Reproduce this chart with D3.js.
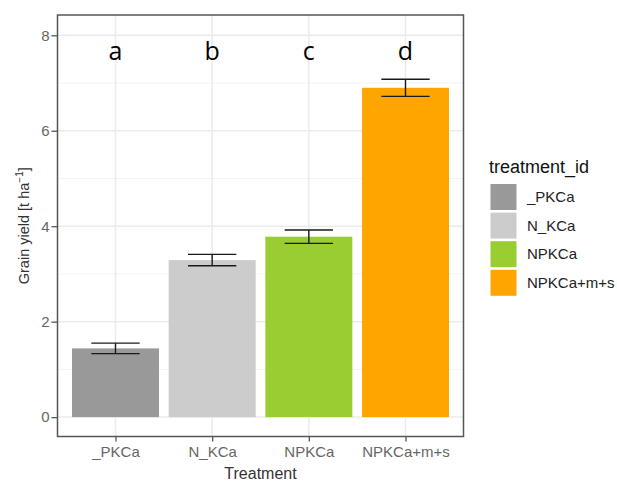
<!DOCTYPE html>
<html>
<head>
<meta charset="utf-8">
<script src="https://cdn.jsdelivr.net/npm/d3@7"></script>
<style>
  body { margin: 0; background: #fff; }
  svg { font-family: "Liberation Sans", Arial, sans-serif; }
</style>
</head>
<body>
<div id="chart"></div>
<script>
const width = 617;
const height = 481;

// DATA
const treatments = ["_PKCa", "N_KCa", "NPKCa", "NPKCa+m+s"];
const yields = [1.44, 3.29, 3.78, 6.90];
const errors = [0.11, 0.12, 0.14, 0.18];
const letters = ["a", "b", "c", "d"];
const colors = ["#999999", "#CCCCCC", "#9ACD32", "#FFA500"];
const yTicks = [0, 2, 4, 6, 8];
const yMinorTicks = [1, 3, 5, 7];

const data = treatments.map((t, i) => ({
  treatment: t,
  value: yields[i],
  err: errors[i],
  letter: letters[i],
  color: colors[i],
}));

const panel = { left: 57.5, right: 463.5, top: 15, bottom: 436.5 };

// SCALES
const yScale = d3
  .scaleLinear()
  .domain([-0.406, 8.425])
  .range([panel.bottom, panel.top]);

// discrete axis with ggplot-style 0.6 expansion
const xPos = d3
  .scaleLinear()
  .domain([0.4, 4.6])
  .range([panel.left, panel.right]);
const xScale = (t) => xPos(treatments.indexOf(t) + 1);
const barW = xPos(1.45) - xPos(1);
const errW = xPos(1.25) - xPos(1);

const colorScale = d3.scaleOrdinal().domain(treatments).range(colors);

const svg = d3
  .select("#chart")
  .append("svg")
  .attr("width", width)
  .attr("height", height);

// GRID
const grid = svg.append("g").attr("class", "grid");
grid
  .selectAll("line.minor")
  .data(yMinorTicks)
  .enter()
  .append("line")
  .attr("x1", panel.left)
  .attr("x2", panel.right)
  .attr("y1", (d) => yScale(d))
  .attr("y2", (d) => yScale(d))
  .attr("stroke", "#F3F3F3")
  .attr("stroke-width", 1);
grid
  .selectAll("line.major")
  .data(yTicks)
  .enter()
  .append("line")
  .attr("x1", panel.left)
  .attr("x2", panel.right)
  .attr("y1", (d) => yScale(d))
  .attr("y2", (d) => yScale(d))
  .attr("stroke", "#EBEBEB")
  .attr("stroke-width", 1.5);
grid
  .selectAll("line.vert")
  .data(treatments)
  .enter()
  .append("line")
  .attr("x1", (d) => xScale(d))
  .attr("x2", (d) => xScale(d))
  .attr("y1", panel.top)
  .attr("y2", panel.bottom)
  .attr("stroke", "#EBEBEB")
  .attr("stroke-width", 1.5);

// BARS
svg
  .selectAll("rect.bar")
  .data(data)
  .enter()
  .append("rect")
  .attr("class", "bar")
  .attr("x", (d) => xScale(d.treatment) - barW)
  .attr("width", barW * 2)
  .attr("y", (d) => yScale(d.value))
  .attr("height", (d) => yScale(0) - yScale(d.value))
  .attr("fill", (d) => colorScale(d.treatment));

// ERROR BARS
const errG = svg
  .selectAll("g.err")
  .data(data)
  .enter()
  .append("g")
  .attr("class", "err")
  .attr("stroke", "#1a1a1a")
  .attr("stroke-width", 1.4);
errG
  .append("line")
  .attr("x1", (d) => xScale(d.treatment))
  .attr("x2", (d) => xScale(d.treatment))
  .attr("y1", (d) => yScale(d.value - d.err))
  .attr("y2", (d) => yScale(d.value + d.err));
errG
  .append("line")
  .attr("x1", (d) => xScale(d.treatment) - errW)
  .attr("x2", (d) => xScale(d.treatment) + errW)
  .attr("y1", (d) => yScale(d.value + d.err))
  .attr("y2", (d) => yScale(d.value + d.err));
errG
  .append("line")
  .attr("x1", (d) => xScale(d.treatment) - errW)
  .attr("x2", (d) => xScale(d.treatment) + errW)
  .attr("y1", (d) => yScale(d.value - d.err))
  .attr("y2", (d) => yScale(d.value - d.err));

// LETTERS
svg
  .selectAll("text.letter")
  .data(data)
  .enter()
  .append("text")
  .attr("class", "letter")
  .text((d) => d.letter)
  .attr("x", (d) => xScale(d.treatment))
  .attr("y", yScale(7.48))
  .attr("text-anchor", "middle")
  .style("font-family", "'Open Sans', sans-serif")
  .style("font-size", "25px")
  .attr("fill", "#000");

// PANEL BORDER
svg
  .append("rect")
  .attr("x", panel.left)
  .attr("y", panel.top)
  .attr("width", panel.right - panel.left)
  .attr("height", panel.bottom - panel.top)
  .attr("fill", "none")
  .attr("stroke", "#555")
  .attr("stroke-width", 1.5);

// AXES
const yAxis = d3
  .axisLeft(yScale)
  .tickValues(yTicks)
  .tickSize(6)
  .tickPadding(2);
const yAxisG = svg
  .append("g")
  .attr("class", "y-axis")
  .attr("transform", `translate(${panel.left},0)`)
  .call(yAxis);
yAxisG.select(".domain").remove();
yAxisG.selectAll("line").attr("stroke", "#555").attr("stroke-width", 1.3);
yAxisG
  .selectAll("text")
  .attr("fill", "#666")
  .style("font-size", "15px");

const xAxisScale = d3
  .scalePoint()
  .domain(treatments)
  .range([xScale(treatments[0]), xScale(treatments[3])]);
const xAxis = d3.axisBottom(xAxisScale).tickSize(5).tickPadding(5);
const xAxisG = svg
  .append("g")
  .attr("class", "x-axis")
  .attr("transform", `translate(0,${panel.bottom})`)
  .call(xAxis);
xAxisG.select(".domain").remove();
xAxisG.selectAll("line").attr("stroke", "#555").attr("stroke-width", 1.3);
xAxisG
  .selectAll("text")
  .attr("fill", "#666")
  .style("font-size", "15px");

// AXIS TITLES
svg
  .append("text")
  .text("Treatment")
  .attr("x", (panel.left + panel.right) / 2)
  .attr("y", 479)
  .attr("text-anchor", "middle")
  .attr("fill", "#333")
  .style("font-size", "16px");

const yTitle = svg
  .append("text")
  .attr("transform", `translate(29,${(panel.top + panel.bottom) / 2}) rotate(-90)`)
  .attr("text-anchor", "middle")
  .attr("fill", "#333")
  .style("font-size", "14.5px");
yTitle.append("tspan").text("Grain yield [t ha");
yTitle
  .append("tspan")
  .text("−1")
  .attr("dy", -6)
  .style("font-size", "10px");
yTitle.append("tspan").text("]").attr("dy", 6);

// LEGEND
const legend = svg
  .append("g")
  .attr("class", "legend")
  .attr("transform", "translate(490,0)");
legend
  .append("text")
  .text("treatment_id")
  .attr("x", -1)
  .attr("y", 173)
  .attr("fill", "#111")
  .style("font-size", "18px");
const keys = legend
  .selectAll("g.key")
  .data(data)
  .enter()
  .append("g")
  .attr("class", "key")
  .attr("transform", (d, i) => `translate(0,${184 + i * 28.6})`);
keys
  .append("rect")
  .attr("x", 0.5)
  .attr("y", 0)
  .attr("width", 26)
  .attr("height", 26)
  .attr("fill", (d) => colorScale(d.treatment));
keys
  .append("text")
  .text((d) => d.treatment)
  .attr("x", 37)
  .attr("y", 13)
  .attr("dy", "0.35em")
  .attr("fill", "#222")
  .style("font-size", "15px");
</script>
</body>
</html>
